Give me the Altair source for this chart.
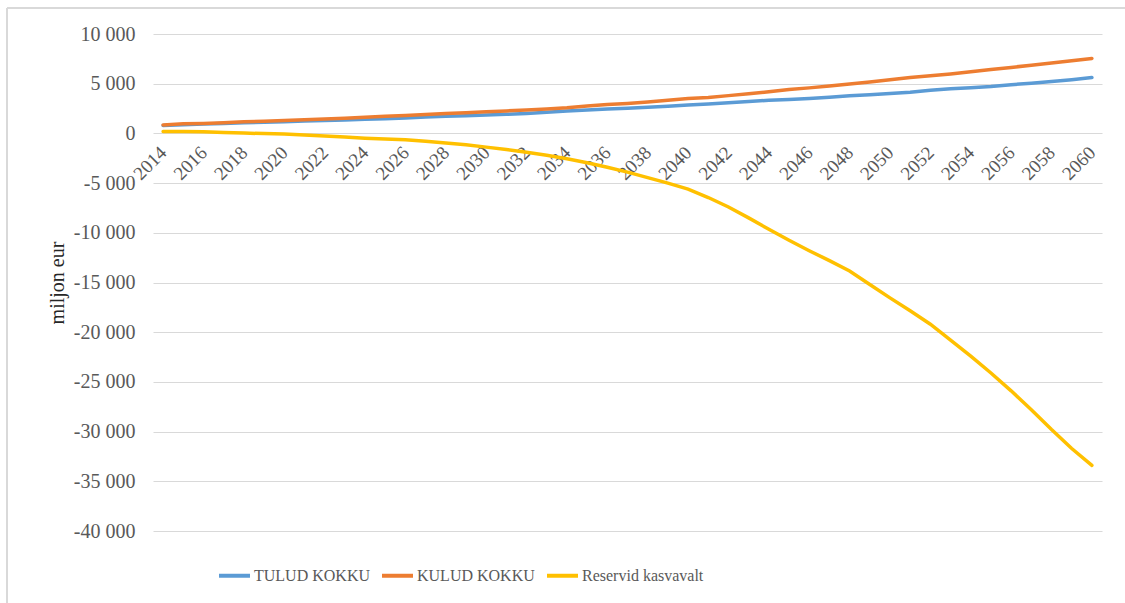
import altair as alt
import pandas as pd

years = list(range(2014, 2061))

tulud = [800, 880, 940, 1000, 1060, 1120, 1180, 1240, 1290, 1350,
         1420, 1480, 1560, 1640, 1720, 1780, 1850, 1920, 2000, 2120,
         2250, 2350, 2450, 2530, 2620, 2730, 2850, 2960, 3080, 3200,
         3330, 3420, 3510, 3640, 3780, 3900, 4020, 4150, 4350, 4480,
         4600, 4720, 4900, 5050, 5220, 5400, 5620]

kulud = [850, 960, 1000, 1060, 1160, 1220, 1300, 1380, 1440, 1520,
         1620, 1720, 1800, 1900, 2000, 2080, 2170, 2260, 2360, 2460,
         2580, 2760, 2900, 3020, 3160, 3330, 3500, 3620, 3800, 3980,
         4200, 4420, 4580, 4780, 4960, 5180, 5400, 5620, 5800, 5980,
         6200, 6420, 6640, 6860, 7080, 7320, 7540]

reservid = [200, 200, 170, 100, 30, -20, -60, -150, -260, -370,
            -480, -560, -650, -800, -970, -1150, -1380, -1620, -1900, -2200,
            -2550, -2950, -3400, -3900, -4450, -5000, -5600, -6450, -7400, -8500,
            -9650, -10750, -11800, -12800, -13850, -15200, -16550, -17850, -19200, -20800,
            -22400, -24100, -25900, -27800, -29800, -31700, -33400]

series_names = ["TULUD KOKKU", "KULUD KOKKU", "Reservid kasvavalt"]
series_colors = ["#5B9BD5", "#ED7D31", "#FFC000"]
y_ticks = [10000, 5000, 0, -5000, -10000, -15000, -20000, -25000, -30000, -35000, -40000]
x_label_years = years[::2]

rows = []
for name, vals in zip(series_names, [tulud, kulud, reservid]):
    for yr, v in zip(years, vals):
        rows.append({"year": yr, "value": v, "series": name})
df = pd.DataFrame(rows)

FONT = "Liberation Serif"
GRID = "#d9d9d9"
W, H = 949, 497
zero_px = H * 10000 / 50000  # position of 0 within plot

x_axis = alt.Axis(values=x_label_years, labelAngle=-45, labelAlign="right",
                  labelBaseline="middle", labelFont=FONT, labelFontSize=19,
                  labelColor="#595959", ticks=False, domain=False, grid=False,
                  labelPadding=16, offset=-(H - zero_px), title=None)
y_axis = alt.Axis(values=y_ticks, grid=True, gridColor=GRID, gridWidth=1.2,
                  domain=False, ticks=False, labelFont=FONT, labelFontSize=20,
                  labelColor="#595959", labelPadding=18,
                  labelExpr="(datum.value < 0 ? '-' : '') + replace(format(abs(datum.value), ','), ',', ' ')",
                  title="miljon eur", titleFont=FONT, titleFontSize=20,
                  titleFontWeight="normal", titleColor="#262626", titlePadding=6)

lines = alt.Chart(df).mark_line(strokeWidth=3.5, strokeCap="round").encode(
    x=alt.X("year:O", scale=alt.Scale(type="point", padding=0.5), axis=x_axis),
    y=alt.Y("value:Q", scale=alt.Scale(domain=[-40000, 10000], nice=False, zero=False),
            axis=y_axis),
    color=alt.Color("series:N",
                    scale=alt.Scale(domain=series_names, range=series_colors),
                    sort=series_names,
                    legend=alt.Legend(orient="none", legendX=64, legendY=524,
                                      direction="horizontal", title=None,
                                      symbolType="stroke", symbolSize=960,
                                      symbolStrokeWidth=4, labelFont=FONT,
                                      labelFontSize=16, labelColor="#595959",
                                      labelLimit=400, labelOffset=2, columnPadding=4)),
)

border = pd.DataFrame({"k": [0]})
left_border = alt.Chart(border).mark_rule(color=GRID, strokeWidth=2).encode(
    x=alt.value(-146), y=alt.value(-26), y2=alt.value(600))
top_border = alt.Chart(border).mark_rule(color=GRID, strokeWidth=2).encode(
    x=alt.value(-146), x2=alt.value(990), y=alt.value(-26))

chart = alt.layer(lines, left_border, top_border).properties(
    width=W, height=H,
    autosize=alt.AutoSizeParams(type="none"),
    padding={"left": 153, "top": 34, "right": 23, "bottom": 72},
    background="white",
).configure(font=FONT).configure_view(stroke=None)

chart.save("out.html", embed_options={"renderer": "svg", "actions": False})
